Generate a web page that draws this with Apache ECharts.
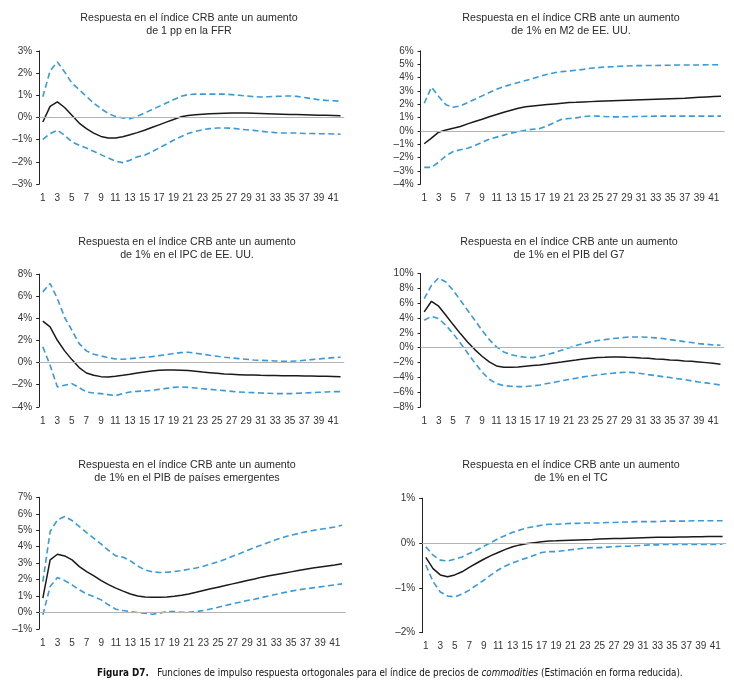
<!DOCTYPE html>
<html><head><meta charset="utf-8">
<script src="https://cdn.jsdelivr.net/npm/echarts@6/dist/echarts.min.js"></script>
<style>html,body{margin:0;padding:0;background:#fff}#c{width:734px;height:690px}</style>
</head><body><div id="c"></div>
<script>
// Periods 1..42
const periods = Array.from({length: 42}, (_, i) => String(i + 1));

// Panel 1: FFR
const ffrMid = [-0.2,0.5,0.7,0.45,0.1,-0.25,-0.5,-0.7,-0.85,-0.92,-0.92,-0.87,-0.78,-0.68,-0.57,-0.45,-0.33,-0.21,-0.09,0.03,0.09,0.12,0.15,0.17,0.18,0.19,0.2,0.2,0.2,0.19,0.18,0.17,0.16,0.15,0.14,0.13,0.12,0.11,0.1,0.1,0.09,0.08];
const ffrUp = [0.93,2.1,2.5,2.05,1.55,1.25,0.95,0.65,0.4,0.18,0.05,-0.02,-0.05,0.05,0.2,0.35,0.5,0.65,0.8,0.95,1.03,1.05,1.05,1.05,1.05,1.05,1.03,1.0,0.97,0.94,0.92,0.93,0.95,0.96,0.97,0.95,0.9,0.85,0.8,0.77,0.75,0.73];
const ffrLo = [-0.98,-0.72,-0.57,-0.8,-1.1,-1.25,-1.37,-1.52,-1.67,-1.82,-1.96,-2.03,-1.92,-1.77,-1.7,-1.55,-1.37,-1.2,-1.02,-0.87,-0.72,-0.62,-0.55,-0.5,-0.47,-0.47,-0.48,-0.52,-0.55,-0.58,-0.62,-0.65,-0.68,-0.7,-0.7,-0.7,-0.72,-0.72,-0.73,-0.73,-0.74,-0.75];

// Panel 2: M2
const m2Mid = [-0.97,-0.55,-0.1,0.07,0.2,0.32,0.52,0.7,0.87,1.05,1.22,1.4,1.55,1.7,1.8,1.87,1.92,1.97,2.02,2.07,2.12,2.14,2.17,2.19,2.21,2.23,2.25,2.27,2.29,2.31,2.33,2.35,2.37,2.39,2.41,2.43,2.45,2.48,2.51,2.54,2.57,2.6];
const m2Up = [2.07,3.27,2.57,1.95,1.77,1.87,2.12,2.37,2.62,2.87,3.12,3.32,3.47,3.62,3.77,3.92,4.09,4.24,4.36,4.44,4.49,4.54,4.61,4.69,4.74,4.79,4.81,4.84,4.86,4.89,4.89,4.9,4.9,4.91,4.92,4.93,4.93,4.94,4.94,4.95,4.95,4.95];
const m2Lo = [-2.74,-2.74,-2.34,-1.87,-1.55,-1.42,-1.3,-1.1,-0.85,-0.62,-0.47,-0.32,-0.17,-0.07,0.05,0.12,0.17,0.37,0.62,0.87,0.92,0.97,1.07,1.12,1.1,1.07,1.05,1.05,1.06,1.07,1.08,1.09,1.1,1.1,1.1,1.1,1.1,1.1,1.1,1.1,1.1,1.1];

// Panel 3: IPC
const ipcMid = [3.75,3.23,2.02,1.06,0.27,-0.45,-0.94,-1.15,-1.27,-1.3,-1.24,-1.15,-1.05,-0.94,-0.85,-0.77,-0.7,-0.67,-0.66,-0.69,-0.72,-0.78,-0.85,-0.91,-0.97,-1.03,-1.06,-1.09,-1.12,-1.12,-1.15,-1.16,-1.17,-1.18,-1.19,-1.2,-1.21,-1.22,-1.23,-1.24,-1.25,-1.27];
const ipcUp = [6.4,7.16,5.8,4.08,2.93,1.72,1.06,0.76,0.6,0.45,0.33,0.3,0.36,0.42,0.48,0.54,0.63,0.72,0.82,0.9,0.94,0.85,0.76,0.66,0.57,0.48,0.42,0.36,0.3,0.24,0.21,0.18,0.15,0.12,0.12,0.15,0.21,0.27,0.33,0.39,0.45,0.48];
const ipcLo = [1.42,-0.24,-2.2,-2.05,-1.9,-2.27,-2.66,-2.75,-2.81,-2.9,-2.99,-2.81,-2.66,-2.6,-2.57,-2.51,-2.42,-2.33,-2.24,-2.2,-2.24,-2.3,-2.36,-2.42,-2.48,-2.54,-2.6,-2.66,-2.69,-2.72,-2.75,-2.78,-2.81,-2.81,-2.81,-2.78,-2.75,-2.72,-2.69,-2.66,-2.63,-2.63];

// Panel 4: PIB G7
const g7Mid = [4.82,6.26,5.59,4.37,3.11,1.89,0.77,-0.27,-1.17,-1.94,-2.48,-2.66,-2.66,-2.61,-2.52,-2.43,-2.34,-2.21,-2.07,-1.94,-1.8,-1.67,-1.53,-1.44,-1.35,-1.31,-1.26,-1.26,-1.31,-1.35,-1.4,-1.44,-1.53,-1.58,-1.67,-1.71,-1.8,-1.85,-1.94,-2.03,-2.12,-2.25];
const g7Up = [6.62,8.42,9.41,8.87,7.75,6.4,5.05,3.69,2.34,1.08,0.09,-0.59,-0.95,-1.17,-1.31,-1.35,-1.17,-0.95,-0.68,-0.36,-0.05,0.27,0.54,0.77,0.95,1.08,1.22,1.31,1.4,1.44,1.44,1.4,1.31,1.22,1.08,0.95,0.81,0.68,0.54,0.45,0.36,0.32];
const g7Lo = [3.69,4.23,3.92,3.02,1.89,0.63,-0.72,-2.07,-3.29,-4.28,-4.86,-5.14,-5.23,-5.27,-5.27,-5.18,-5.05,-4.86,-4.68,-4.5,-4.32,-4.14,-3.96,-3.83,-3.69,-3.56,-3.47,-3.38,-3.33,-3.38,-3.51,-3.65,-3.78,-3.92,-4.05,-4.19,-4.32,-4.5,-4.64,-4.77,-4.91,-5.05];

// Panel 5: PIB países emergentes
const emMid = [0.87,3.2,3.54,3.44,3.2,2.79,2.49,2.23,1.94,1.7,1.48,1.3,1.13,1.01,0.95,0.93,0.93,0.95,0.99,1.05,1.13,1.23,1.34,1.44,1.54,1.64,1.74,1.84,1.94,2.04,2.15,2.23,2.31,2.39,2.47,2.55,2.63,2.71,2.77,2.83,2.89,2.96];
const emUp = [1.88,4.92,5.63,5.83,5.59,5.22,4.86,4.51,4.15,3.77,3.44,3.36,3.14,2.83,2.59,2.47,2.43,2.45,2.49,2.55,2.63,2.71,2.81,2.94,3.08,3.24,3.42,3.58,3.77,3.95,4.11,4.27,4.43,4.57,4.7,4.8,4.9,4.98,5.06,5.12,5.2,5.3];
const emLo = [-0.14,1.58,2.13,1.94,1.68,1.38,1.13,0.97,0.77,0.47,0.2,0.12,0.06,0.0,-0.04,-0.1,-0.04,0.06,0.06,0.02,0.02,0.06,0.12,0.22,0.32,0.43,0.53,0.63,0.73,0.81,0.91,1.01,1.11,1.21,1.3,1.38,1.44,1.5,1.56,1.62,1.68,1.74];

// Panel 6: TC
const tcMid = [-0.32,-0.57,-0.71,-0.75,-0.71,-0.64,-0.54,-0.45,-0.36,-0.28,-0.21,-0.14,-0.08,-0.04,-0.01,0.01,0.03,0.045,0.05,0.06,0.065,0.07,0.075,0.08,0.09,0.095,0.1,0.105,0.11,0.115,0.12,0.125,0.13,0.13,0.13,0.135,0.135,0.14,0.14,0.145,0.15,0.15];
const tcUp = [-0.08,-0.27,-0.38,-0.4,-0.36,-0.31,-0.23,-0.16,-0.07,0.01,0.1,0.17,0.24,0.29,0.34,0.37,0.4,0.42,0.42,0.43,0.44,0.44,0.45,0.45,0.45,0.46,0.46,0.47,0.47,0.48,0.48,0.48,0.48,0.49,0.49,0.49,0.49,0.5,0.5,0.5,0.5,0.5];
const tcLo = [-0.49,-0.86,-1.09,-1.18,-1.2,-1.14,-1.05,-0.94,-0.83,-0.71,-0.6,-0.51,-0.44,-0.38,-0.33,-0.27,-0.21,-0.19,-0.19,-0.17,-0.15,-0.13,-0.11,-0.1,-0.1,-0.09,-0.08,-0.07,-0.07,-0.06,-0.05,-0.04,-0.04,-0.03,-0.03,-0.03,-0.03,-0.03,-0.03,-0.03,-0.03,-0.02];

// Titles
const titles = [
  'Respuesta en el índice CRB ante un aumento\nde 1 pp en la FFR',
  'Respuesta en el índice CRB ante un aumento\nde 1% en M2 de EE. UU.',
  'Respuesta en el índice CRB ante un aumento\nde 1% en el IPC de EE. UU.',
  'Respuesta en el índice CRB ante un aumento\nde 1% en el PIB del G7',
  'Respuesta en el índice CRB ante un aumento\nde 1% en el PIB de países emergentes',
  'Respuesta en el índice CRB ante un aumento\nde 1% en el TC'
];
// Y axis ranges [min, max, interval]
const yRanges = [[-3,3,1],[-4,6,1],[-4,8,2],[-8,10,2],[-1,7,1],[-2,1,1]];
const seriesData = [
  [ffrLo, ffrUp, ffrMid],
  [m2Lo, m2Up, m2Mid],
  [ipcLo, ipcUp, ipcMid],
  [g7Lo, g7Up, g7Mid],
  [emLo, emUp, emMid],
  [tcLo, tcUp, tcMid]
];

// Layout (positions only)
const layout = [
  {left: 39.2, top: 50.8, width: 305, height: 133.4, tx: 189, ty: 11.6},
  {left: 420.6, top: 50.8, width: 304, height: 133.4, tx: 571, ty: 11.6},
  {left: 39.2, top: 274.2, width: 305, height: 132.6, tx: 187, ty: 236},
  {left: 420.6, top: 273.6, width: 303.5, height: 133.2, tx: 569, ty: 236},
  {left: 39.2, top: 497.3, width: 306.5, height: 131.7, tx: 187, ty: 459},
  {left: 422.2, top: 498.3, width: 304, height: 134.4, tx: 571, ty: 459}
];

const FONT = '"Liberation Sans", Arial, Helvetica, sans-serif';
const CAPFONT = '"Liberation Sans Narrow", "DejaVu Sans Condensed", sans-serif';
const BLUE = '#3a9ad6';
const fmt = v => (v < 0 ? '\u2013' + Math.abs(v) : String(v)) + '%';

const grid = [], xAxis = [], yAxis = [], series = [], graphic = [];
layout.forEach((L, i) => {
  grid.push({left: L.left, top: L.top, width: L.width, height: L.height, containLabel: false});
  xAxis.push({
    type: 'category', gridIndex: i, data: periods, boundaryGap: true,
    axisLine: {show: false}, axisTick: {show: false}, splitLine: {show: false},
    axisLabel: {interval: 1, margin: 9, fontSize: 10, color: '#333', fontFamily: FONT, hideOverlap: false}
  });
  const r = yRanges[i];
  yAxis.push({
    type: 'value', gridIndex: i, min: r[0], max: r[1], interval: r[2],
    axisLine: {show: true, lineStyle: {color: '#222', width: 1}},
    axisTick: {show: true, length: 3, lineStyle: {color: '#222', width: 1}},
    splitLine: {show: false},
    axisLabel: {formatter: fmt, margin: 7, fontSize: 10, color: '#333', fontFamily: FONT}
  });
  const [lo, up, mid] = seriesData[i];
  series.push({
    type: 'line', xAxisIndex: i, yAxisIndex: i, data: lo, symbol: 'none', silent: true,
    lineStyle: {color: BLUE, width: 1.6, type: [6, 3.5]},
    markLine: {silent: true, symbol: 'none', label: {show: false},
      lineStyle: {color: '#b3b3b3', type: 'solid', width: 1}, data: [{yAxis: 0}]}
  });
  series.push({
    type: 'line', xAxisIndex: i, yAxisIndex: i, data: up, symbol: 'none', silent: true,
    lineStyle: {color: BLUE, width: 1.6, type: [6, 3.5]}
  });
  series.push({
    type: 'line', xAxisIndex: i, yAxisIndex: i, data: mid, symbol: 'none', silent: true,
    lineStyle: {color: '#1a1a1a', width: 1.5}
  });
  graphic.push({
    type: 'text', x: L.tx, y: L.ty,
    style: {text: titles[i], align: 'center', verticalAlign: 'top', fontSize: 10.7,
      lineHeight: 13, fill: '#2a2a2a', fontFamily: FONT}
  });
});

graphic.push({
  type: 'text', x: 97, y: 673,
  style: {
    text: '{b|Figura D7.}{n|   Funciones de impulso respuesta ortogonales para el índice de precios de }{i|commodities}{n| (Estimación en forma reducida).}',
    verticalAlign: 'middle', align: 'left',
    rich: {
      b: {fontWeight: 'bold', fontSize: 9.8, fontFamily: CAPFONT, fill: '#111'},
      n: {fontSize: 9.8, fontFamily: CAPFONT, fill: '#111'},
      i: {fontStyle: 'italic', fontSize: 9.8, fontFamily: CAPFONT, fill: '#111'}
    }
  }
});

const chart = echarts.init(document.getElementById('c'), null, {renderer: 'canvas'});
chart.setOption({
  backgroundColor: '#fff',
  animation: false,
  grid, xAxis, yAxis, series, graphic
});
</script>
</body></html>
